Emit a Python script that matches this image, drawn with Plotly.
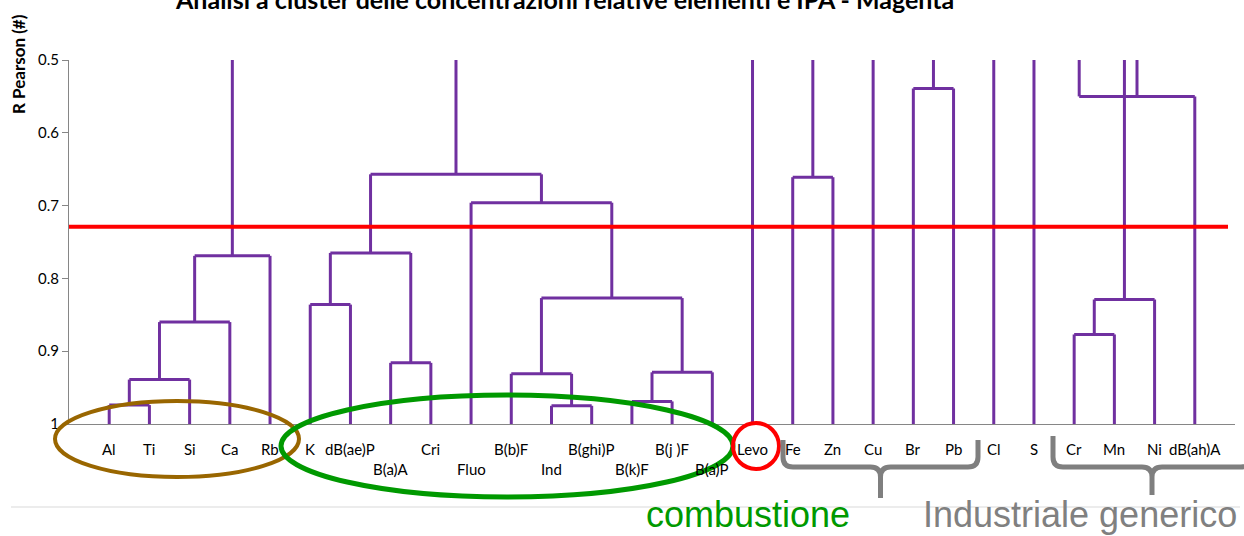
import plotly.graph_objects as go

# ---- data -------------------------------------------------------------
LEAVES = ["Al", "Ti", "Si", "Ca", "Rb", "K", "dB(ae)P", "B(a)A", "Cri", "Fluo",
          "B(b)F", "Ind", "B(ghi)P", "B(k)F", "B(j )F", "B(a)P", "Levo", "Fe",
          "Zn", "Cu", "Br", "Pb", "Cl", "S", "Cr", "Mn", "Ni", "dB(ah)A"]

# merges: (node id, left child, right child, R Pearson of the merge)
MERGES = [
    ("m0", "Al", "Ti", 0.974),
    ("m1", "m0", "Si", 0.939),
    ("m2", "m1", "Ca", 0.860),
    ("m3", "m2", "Rb", 0.769),
    ("m4", "K", "dB(ae)P", 0.836),
    ("m5", "B(a)A", "Cri", 0.916),
    ("m6", "m4", "m5", 0.765),
    ("m7", "Ind", "B(ghi)P", 0.975),
    ("m8", "B(b)F", "m7", 0.931),
    ("m9", "B(k)F", "B(j )F", 0.969),
    ("m10", "m9", "B(a)P", 0.929),
    ("m11", "m8", "m10", 0.827),
    ("m12", "Fluo", "m11", 0.696),
    ("m13", "m6", "m12", 0.657),
    ("m14", "Fe", "Zn", 0.661),
    ("m15", "Br", "Pb", 0.539),
    ("m16", "Cr", "Mn", 0.877),
    ("m17", "m16", "Ni", 0.829),
    ("m18", "S", "m17", 0.45),
    ("m19", "m18", "dB(ah)A", 0.550),
]
ROOT_LEVEL = 0.40          # unjoined branches run off the top of the chart
THRESHOLD = 0.729          # cut level
Y_TICKS = [0.5, 0.6, 0.7, 0.8, 0.9, 1.0]
SECOND_ROW = {"B(a)A", "Fluo", "Ind", "B(k)F", "B(a)P"}

TITLE = "Analisi a cluster delle concentrazioni relative elementi e IPA - Magenta"
Y_TITLE = "R Pearson (#)"

# ---- geometry ---------------------------------------------------------
W, H = 1244, 536
ML, MR, MT, MB = 69, 9, 60, 112
PW, PH = W - ML - MR, H - MT - MB


def px(x):
    return (x - ML) / PW


def py(y):
    return (H - MB - y) / PH


PURPLE = "#7030A0"
FONT = "Lato"

# ---- dendrogram segments ---------------------------------------------
pos = {name: i + 1 for i, name in enumerate(LEAVES)}
height = {name: 1.0 for name in LEAVES}
parent = {}
for node, a, b, h in MERGES:
    pos[node] = (pos[a] + pos[b]) / 2
    height[node] = h
    parent[a] = node
    parent[b] = node

xs, ys = [], []
for node in list(pos):
    top = height[parent[node]] if node in parent else ROOT_LEVEL
    xs += [pos[node], pos[node], None]
    ys += [height[node], top, None]
for node, a, b, h in MERGES:
    xs += [pos[a], pos[b], None]
    ys += [h, h, None]

fig = go.Figure()
fig.add_trace(go.Scatter(x=xs, y=ys, mode="lines",
                         line=dict(color=PURPLE, width=3),
                         hoverinfo="skip", showlegend=False))

# ---- shapes -----------------------------------------------------------
shapes = []
# cut line
shapes.append(dict(type="line", xref="paper", yref="y", x0=0, x1=0.994,
                   y0=THRESHOLD, y1=THRESHOLD, layer="above",
                   line=dict(color="#FF0000", width=4)))
# faint separator under the labels
shapes.append(dict(type="line", xref="paper", yref="paper",
                   x0=px(11), x1=px(1240), y0=py(507), y1=py(507),
                   line=dict(color="#D9D9D9", width=1)))


def ellipse(cx, cy, rx, ry, color, width):
    return dict(type="circle", xref="paper", yref="paper",
                x0=px(cx - rx), x1=px(cx + rx), y0=py(cy + ry), y1=py(cy - ry),
                layer="above", line=dict(color=color, width=width))


shapes.append(ellipse(177, 439, 122, 38, "#996600", 4))
shapes.append(ellipse(507, 446, 226, 51, "#009900", 5))
shapes.append(ellipse(756, 446, 23, 23, "#FF0000", 4))


def brace(x0, x1, ytop, ybar, ytip, r=10):
    xc = (x0 + x1) / 2
    pts = [
        ("M", (x0, ytop)), ("L", (x0, ybar - r)), ("Q", (x0, ybar), (x0 + r, ybar)),
        ("L", (xc - r, ybar)), ("Q", (xc, ybar), (xc, ybar + r)), ("L", (xc, ytip)),
        ("M", (xc, ybar + r)), ("Q", (xc, ybar), (xc + r, ybar)),
        ("L", (x1 - r, ybar)), ("Q", (x1, ybar), (x1, ybar - r)), ("L", (x1, ytop)),
    ]
    path = ""
    for cmd, *p in pts:
        path += cmd + " " + " ".join(f"{px(a):.5f},{py(b):.5f}" for a, b in p) + " "
    return dict(type="path", xref="paper", yref="paper", path=path.strip(),
                layer="above", line=dict(color="#7F7F7F", width=5))


shapes.append(brace(783, 978, 440, 467, 498))
shapes.append(brace(1053, 1251, 436, 467, 495))

# ---- annotations ------------------------------------------------------
ann = []
for name in LEAVES:
    row_y = 469 if name in SECOND_ROW else 449
    ann.append(dict(x=pos[name], y=py(row_y), xref="x", yref="paper",
                    text=name, showarrow=False, xanchor="center", yanchor="middle",
                    font=dict(family=FONT, size=15, color="#000000")))

ann.append(dict(x=px(564), y=1, xref="paper", yref="paper",
                xanchor="center", yanchor="bottom",
                yshift=44, text="<b>" + TITLE + "</b>", showarrow=False,
                font=dict(family=FONT, size=25, color="#000000")))
ann.append(dict(x=px(19), y=py(64), xref="paper", yref="paper", textangle=-90,
                xanchor="center", yanchor="middle",
                text="<b>" + Y_TITLE + "</b>", showarrow=False,
                font=dict(family=FONT, size=17, color="#000000")))
ann.append(dict(x=px(748), y=py(514), xref="paper", yref="paper",
                text="combustione", showarrow=False,
                xanchor="center", yanchor="middle",
                font=dict(family="Liberation Sans", size=36, color="#009900")))
ann.append(dict(x=px(921), y=py(514), xref="paper", yref="paper",
                text="Industriale generico", showarrow=False,
                xanchor="left", yanchor="middle",
                font=dict(family="Liberation Sans", size=36, color="#808080")))

fig.update_layout(
    width=W, height=H,
    margin=dict(l=ML, r=MR, t=MT, b=MB, pad=0),
    plot_bgcolor="white", paper_bgcolor="white",
    shapes=shapes, annotations=ann, showlegend=False,
    xaxis=dict(range=[0, len(LEAVES) + 1], showgrid=False, zeroline=False,
               showticklabels=False, ticks="", showline=True,
               linecolor="#868686", linewidth=1),
    yaxis=dict(range=[1.0, 0.5], showgrid=False, zeroline=False,
               tickvals=Y_TICKS, ticktext=[f"{v:g}" for v in Y_TICKS],
               ticks="outside", ticklen=6, tickcolor="#868686",
               showline=True, linecolor="#868686", linewidth=1,
               tickfont=dict(family=FONT, size=15, color="#000000")),
)

fig.write_html("out.html")
